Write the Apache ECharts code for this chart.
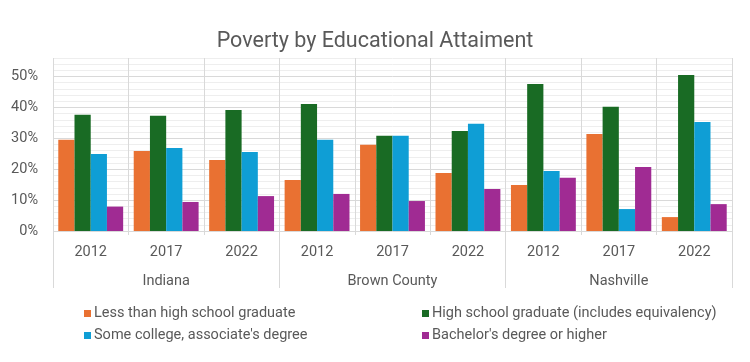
<!DOCTYPE html>
<html>
<head>
<meta charset="utf-8">
<script src="https://cdn.jsdelivr.net/npm/echarts@6/dist/echarts.min.js"></script>
<style>html,body{margin:0;padding:0;background:#fff;}#c{width:750px;height:362px;}</style>
</head>
<body>
<div id="c"></div>
<script>
const years = ['2012','2017','2022','2012','2017','2022','2012','2017','2022'];
const regions = ['Indiana','Brown County','Nashville'];
const seriesNames = ['Less than high school graduate','High school graduate (includes equivalency)','Some college, associate\'s degree','Bachelor\'s degree or higher'];
const lessThanHS = [0.295, 0.259, 0.230, 0.165, 0.279, 0.188, 0.149, 0.314, 0.045];
const hsGrad     = [0.376, 0.373, 0.392, 0.411, 0.308, 0.324, 0.476, 0.402, 0.505];
const someCollege= [0.249, 0.269, 0.256, 0.295, 0.308, 0.347, 0.194, 0.071, 0.353];
const bachelors  = [0.079, 0.094, 0.113, 0.120, 0.097, 0.136, 0.172, 0.207, 0.087];
const colors = ['#E97132','#196B24','#0F9ED5','#A02B93'];
const values = [lessThanHS, hsGrad, someCollege, bachelors];

const FONT = 'Roboto';
const TXT = '#595959';
const FS = 14.5;
const chart = echarts.init(document.getElementById('c'), null, {renderer:'canvas'});
const minorColor = '#eeeeee', majorColor = '#d9d9d9';
chart.setOption({
  animation: false,
  textStyle: {fontFamily: FONT},
  title: {
    text: 'Poverty by Educational Attaiment',
    left: 'center', top: 26,
    textStyle: {fontFamily: FONT, fontSize: 21.5, fontWeight: 'normal', color: TXT}
  },
  legend: [
    {data: [seriesNames[0], seriesNames[2]], orient: 'vertical', left: 79, top: 301,
     itemWidth: 7, itemHeight: 7, itemGap: 7, icon: 'rect',
     textStyle: {fontFamily: FONT, fontSize: FS, color: TXT, padding: [0,0,0,-2]}},
    {data: [seriesNames[1], seriesNames[3]], orient: 'vertical', left: 417, top: 301,
     itemWidth: 7, itemHeight: 7, itemGap: 7, icon: 'rect',
     textStyle: {fontFamily: FONT, fontSize: FS, color: TXT, padding: [0,0,0,-2]}}
  ],
  grid: {left: 53, right: 18, top: 58, bottom: 131, containLabel: false},
  xAxis: [
    {type: 'category', data: years, position: 'bottom', offset: 0,
     axisLine: {show: false},
     axisTick: {show: true, length: 4, interval: 0, lineStyle: {color: majorColor}},
     axisLabel: {interval: 0, margin: 14, fontFamily: FONT, fontSize: FS, color: TXT},
     splitLine: {show: true, interval: 0, lineStyle: {color: majorColor}}},
    {type: 'category', data: regions, position: 'bottom', offset: 0,
     axisLine: {show: false},
     axisTick: {show: true, length: 57, interval: 0, lineStyle: {color: majorColor}},
     axisLabel: {interval: 0, margin: 43, fontFamily: FONT, fontSize: FS, color: TXT},
     splitLine: {show: false}}
  ],
  yAxis: {
    type: 'value', min: 0, max: 0.56, interval: 0.02,
    axisLine: {show: false}, axisTick: {show: false},
    axisLabel: {margin: 15, fontFamily: FONT, fontSize: FS, color: TXT,
      formatter: function (v) {
        const p = Math.round(v * 100);
        return p % 10 === 0 ? p + '%' : '';
      }},
    splitLine: {show: true, lineStyle: {color: [majorColor, minorColor, minorColor, minorColor, minorColor]}}
  },
  series: values.map((arr, i) => ({
    name: seriesNames[i], type: 'bar', xAxisIndex: 0,
    data: arr, barGap: '0%', barCategoryGap: '14%',
    itemStyle: {color: colors[i]}
  }))
});
</script>
</body>
</html>
